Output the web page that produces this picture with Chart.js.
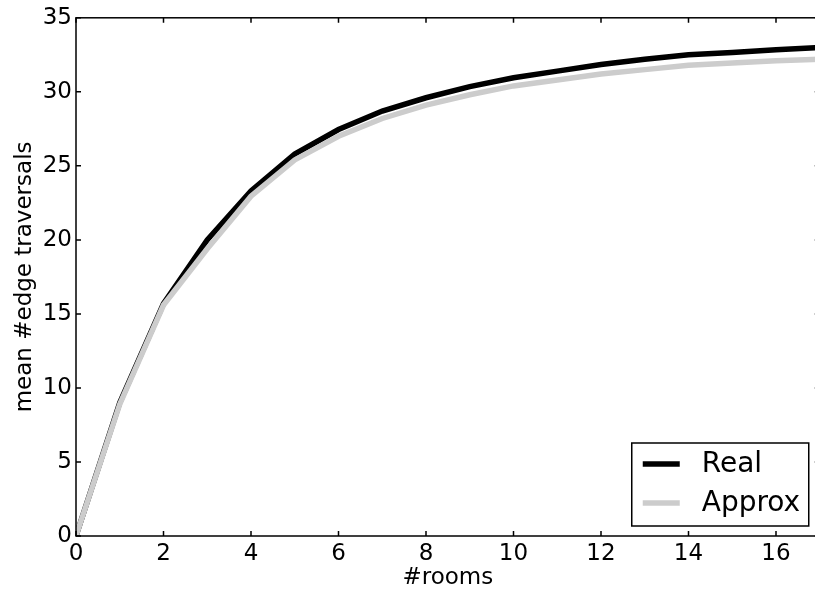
<!DOCTYPE html>
<html>
<head>
<meta charset="utf-8">
<script src="https://cdn.jsdelivr.net/npm/chart.js@4"></script>
<style>
  html, body { margin: 0; padding: 0; background: #fff; overflow: hidden; }
  #wrap { width: 830px; height: 600px; }
</style>
</head>
<body>
<div id="wrap"><canvas id="traversals-chart" width="830" height="600"></canvas></div>
<script>
const rooms = [0, 1, 2, 3, 4, 5, 6, 7, 8, 9, 10, 11, 12, 13, 14, 15, 16, 17];
const realTraversals = [0, 9.0, 15.7, 20.0, 23.3, 25.8, 27.45, 28.7, 29.6, 30.35, 30.95, 31.4, 31.85, 32.2, 32.5, 32.65, 32.85, 33.0];
const approxTraversals = [0, 8.9, 15.6, 19.4, 22.95, 25.4, 27.0, 28.2, 29.1, 29.8, 30.4, 30.8, 31.2, 31.5, 31.8, 31.95, 32.1, 32.2];
const xTicks = [0, 2, 4, 6, 8, 10, 12, 14, 16];
const yTicks = [0, 5, 10, 15, 20, 25, 30, 35];

const font = 'DejaVu Sans';

const toPoints = values => rooms.map((r, i) => ({ x: r, y: values[i] }));

// spines and inward tick marks on all four sides
const frame = {
  id: 'frame',
  afterDraw(chart) {
    const { ctx, chartArea: a, scales: { x, y } } = chart;
    const len = 5;
    ctx.save();
    ctx.strokeStyle = '#000';
    ctx.lineWidth = 1.5;
    ctx.strokeRect(a.left, a.top, a.right - a.left, a.bottom - a.top);
    ctx.beginPath();
    xTicks.forEach(v => {
      const px = x.getPixelForValue(v);
      ctx.moveTo(px, a.bottom); ctx.lineTo(px, a.bottom - len);
      ctx.moveTo(px, a.top); ctx.lineTo(px, a.top + len);
    });
    yTicks.forEach(v => {
      const py = y.getPixelForValue(v);
      ctx.moveTo(a.left, py); ctx.lineTo(a.left + len, py);
      ctx.moveTo(a.right, py); ctx.lineTo(a.right - len, py);
    });
    ctx.stroke();
    ctx.restore();
  }
};

// boxed legend in the lower right corner of the plot
const boxLegend = {
  id: 'boxLegend',
  afterDraw(chart) {
    const { ctx, chartArea: a } = chart;
    const w = 177, h = 83;
    const bx = a.right - 11 - w, by = a.bottom - 10 - h;
    ctx.save();
    ctx.fillStyle = '#fff';
    ctx.fillRect(bx, by, w, h);
    ctx.strokeStyle = '#000';
    ctx.lineWidth = 1.5;
    ctx.strokeRect(bx, by, w, h);
    ctx.font = `28px "${font}"`;
    ctx.textBaseline = 'middle';
    chart.data.datasets.forEach((ds, i) => {
      const cy = by + 21 + i * 39;
      ctx.strokeStyle = ds.borderColor;
      ctx.lineWidth = 5.5;
      ctx.beginPath();
      ctx.moveTo(bx + 11, cy);
      ctx.lineTo(bx + 48, cy);
      ctx.stroke();
      ctx.fillStyle = '#000';
      ctx.fillText(ds.label, bx + 70, cy + 1);
    });
    ctx.restore();
  }
};

new Chart(document.querySelector('#traversals-chart'), {
  type: 'line',
  data: {
    datasets: [
      {
        label: 'Real',
        data: toPoints(realTraversals),
        borderColor: '#000000',
        borderWidth: 5.5,
        pointRadius: 0,
        tension: 0,
        clip: 0,
        order: 1
      },
      {
        label: 'Approx',
        data: toPoints(approxTraversals),
        borderColor: '#cccccc',
        borderWidth: 5.5,
        pointRadius: 0,
        tension: 0,
        clip: 0,
        order: 0
      }
    ]
  },
  options: {
    responsive: false,
    animation: false,
    layout: { padding: { top: 16, right: 10.25, left: 0, bottom: 0 } },
    scales: {
      x: {
        type: 'linear',
        min: 0,
        max: 17,
        afterBuildTicks: scale => { scale.ticks = xTicks.map(v => ({ value: v })); },
        afterFit: scale => { scale.height = 64; },
        grid: { display: false, drawTicks: false },
        border: { display: false },
        ticks: { color: '#000', padding: 4, font: { family: font, size: 23 } },
        title: {
          display: true,
          text: '#rooms',
          color: '#000',
          padding: { top: 0, bottom: 8 },
          font: { family: font, size: 23 }
        }
      },
      y: {
        min: 0,
        max: 35,
        afterBuildTicks: scale => { scale.ticks = yTicks.map(v => ({ value: v })); },
        afterFit: scale => { scale.width = 76; },
        grid: { display: false, drawTicks: false },
        border: { display: false },
        ticks: { color: '#000', padding: 4, font: { family: font, size: 23 } },
        title: {
          display: true,
          text: 'mean #edge traversals',
          color: '#000',
          padding: { top: 11, bottom: 0 },
          font: { family: font, size: 23 }
        }
      }
    },
    plugins: {
      legend: { display: false },
      tooltip: { enabled: false }
    }
  },
  plugins: [frame, boxLegend]
});
</script>
</body>
</html>
